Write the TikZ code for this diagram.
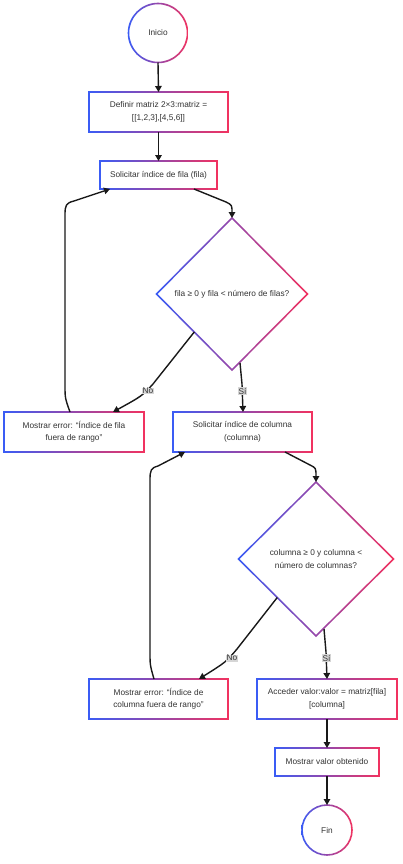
\documentclass[tikz,border=0pt]{standalone}
\usepackage{fontspec}
\setmainfont{Liberation Sans}
\usetikzlibrary{arrows.meta,shapes.geometric}
\definecolor{gB}{HTML}{3A5CF5}
\definecolor{gR}{HTML}{F2325F}
\definecolor{txt}{HTML}{333333}
\definecolor{lbl}{HTML}{D6D6D6}
\newcommand\gradrect[1]{\shade[left color=gB,right color=gR,even odd rule]
  ([shift={(-0.8pt,-0.8pt)}]#1.south west) rectangle ([shift={(0.8pt,0.8pt)}]#1.north east)
  ([shift={(0.8pt,0.8pt)}]#1.south west) rectangle ([shift={(-0.8pt,-0.8pt)}]#1.north east);}
\newcommand\gradcirc[2]{\shade[left color=gB,right color=gR,even odd rule]
  (#1.center) circle[radius=#2pt+0.8pt] (#1.center) circle[radius=#2pt-0.8pt];}
\newcommand\graddiam[1]{\shade[left color=gB,right color=gR,even odd rule]
  ([yshift=1.1pt]#1.north) -- ([xshift=1.1pt]#1.east) -- ([yshift=-1.1pt]#1.south) -- ([xshift=-1.1pt]#1.west) -- cycle
  ([yshift=-1.1pt]#1.north) -- ([xshift=-1.1pt]#1.east) -- ([yshift=1.1pt]#1.south) -- ([xshift=1.1pt]#1.west) -- cycle;}
\tikzset{
  every node/.style={text=txt,font=\fontsize{8.3}{12.5}\selectfont},
  boxnode/.style={rectangle,fill=white,align=center,inner sep=0pt,outer sep=0pt},
  circnode/.style={circle,fill=white,inner sep=0pt,outer sep=0pt},
  diamnode/.style={diamond,aspect=1,align=center,inner sep=0pt,outer sep=0pt},
  lblnode/.style={fill=lbl,inner sep=0.6pt,text=txt},
  arr/.style={draw=black!90,line width=1.4pt,-{Triangle[length=6pt,width=6.5pt]}},
}
\begin{document}
\begin{tikzpicture}[x=1pt,y=-1pt]
\useasboundingbox (0,0) rectangle (403,864);
\fill[white] (0,0) rectangle (403,864);
% nodes
\node[circnode,minimum size=59pt] (ini) at (158,33) {Inicio};
\node[boxnode,minimum width=139pt,minimum height=40pt] (def) at (158.5,112) {Definir matriz 2×3:matriz =\\{}[[1,2,3],[4,5,6]]};
\node[boxnode,minimum width=117pt,minimum height=28pt] (s1) at (158.5,175) {Solicitar índice de fila (fila)};
\node[diamnode,minimum width=151pt,minimum height=152pt] (d1) at (232,294) {fila ≥ 0 y fila < número de filas?};
\node[boxnode,minimum width=140pt,minimum height=40pt] (e1) at (74,432) {Mostrar error: “Índice de fila\\fuera de rango”};
\node[boxnode,minimum width=139pt,minimum height=40pt] (s2) at (242.5,432) {Solicitar índice de columna\\(columna)};
\node[diamnode,minimum width=155pt,minimum height=154pt] (d2) at (316,559) {columna ≥ 0 y columna <\\número de columnas?};
\node[boxnode,minimum width=139pt,minimum height=40pt] (e2) at (158.5,699) {Mostrar error: “Índice de\\columna fuera de rango”};
\node[boxnode,minimum width=140pt,minimum height=40pt] (acc) at (327,699) {Acceder valor:valor = matriz[fila]\\{}[columna]};
\node[boxnode,minimum width=104pt,minimum height=28pt] (mv) at (327,762) {Mostrar valor obtenido};
\node[circnode,minimum size=50pt] (fin) at (327,830) {Fin};
% gradient borders
\gradcirc{ini}{29.5}
\gradrect{def}
\gradrect{s1}
\graddiam{d1}
\gradrect{e1}
\gradrect{s2}
\graddiam{d2}
\gradrect{e2}
\gradrect{acc}
\gradrect{mv}
\gradcirc{fin}{25}
% connectors
\draw[arr] (ini.south) -- (def.north);
\draw[arr] (def.south) -- (s1.north);
\draw[arr] ([xshift=35.5pt]s1.south) -- (226,202) .. controls (232,205) .. (d1.north);
\draw[arr] (d1.south west) -- (153,384) .. controls (142,396) .. ([xshift=39pt]e1.north);
\draw[arr] ([xshift=8pt,yshift=7pt]d1.south) -- (242,384) -- ([xshift=0.5pt]s2.north);
\draw[arr] ([xshift=-4pt]e1.north) .. controls (65,398) .. (65,385) -- (65,215) .. controls (65,205) and (66,203) .. (74,201) -- ([xshift=-48.5pt]s1.south);
\draw[arr] ([xshift=42.5pt]s2.south) -- (310,465) .. controls (316,468) .. (d2.north);
\draw[arr] (d2.south west) -- (237,649) .. controls (226,662) .. ([xshift=40.5pt]e2.north);
\draw[arr] ([xshift=8pt,yshift=7pt]d2.south) -- (326,652) -- (acc.north);
\draw[arr] ([xshift=-4.5pt]e2.north) .. controls (150,665) .. (150,652) -- (150,480) .. controls (150,470) and (151,468) .. (158,466) -- ([xshift=-57.5pt]s2.south);
\draw[arr] (acc.south) -- (mv.north);
\draw[arr] (mv.south) -- (fin.north);
% labels
\node[lblnode] (lno1) at (148,391) {No};
\node[lblnode] (lsi1) at (242.5,391) {Sí};
\node[lblnode] (lno2) at (232,658) {No};
\node[lblnode] (lsi2) at (326.5,658) {Sí};
\end{tikzpicture}
\end{document}
